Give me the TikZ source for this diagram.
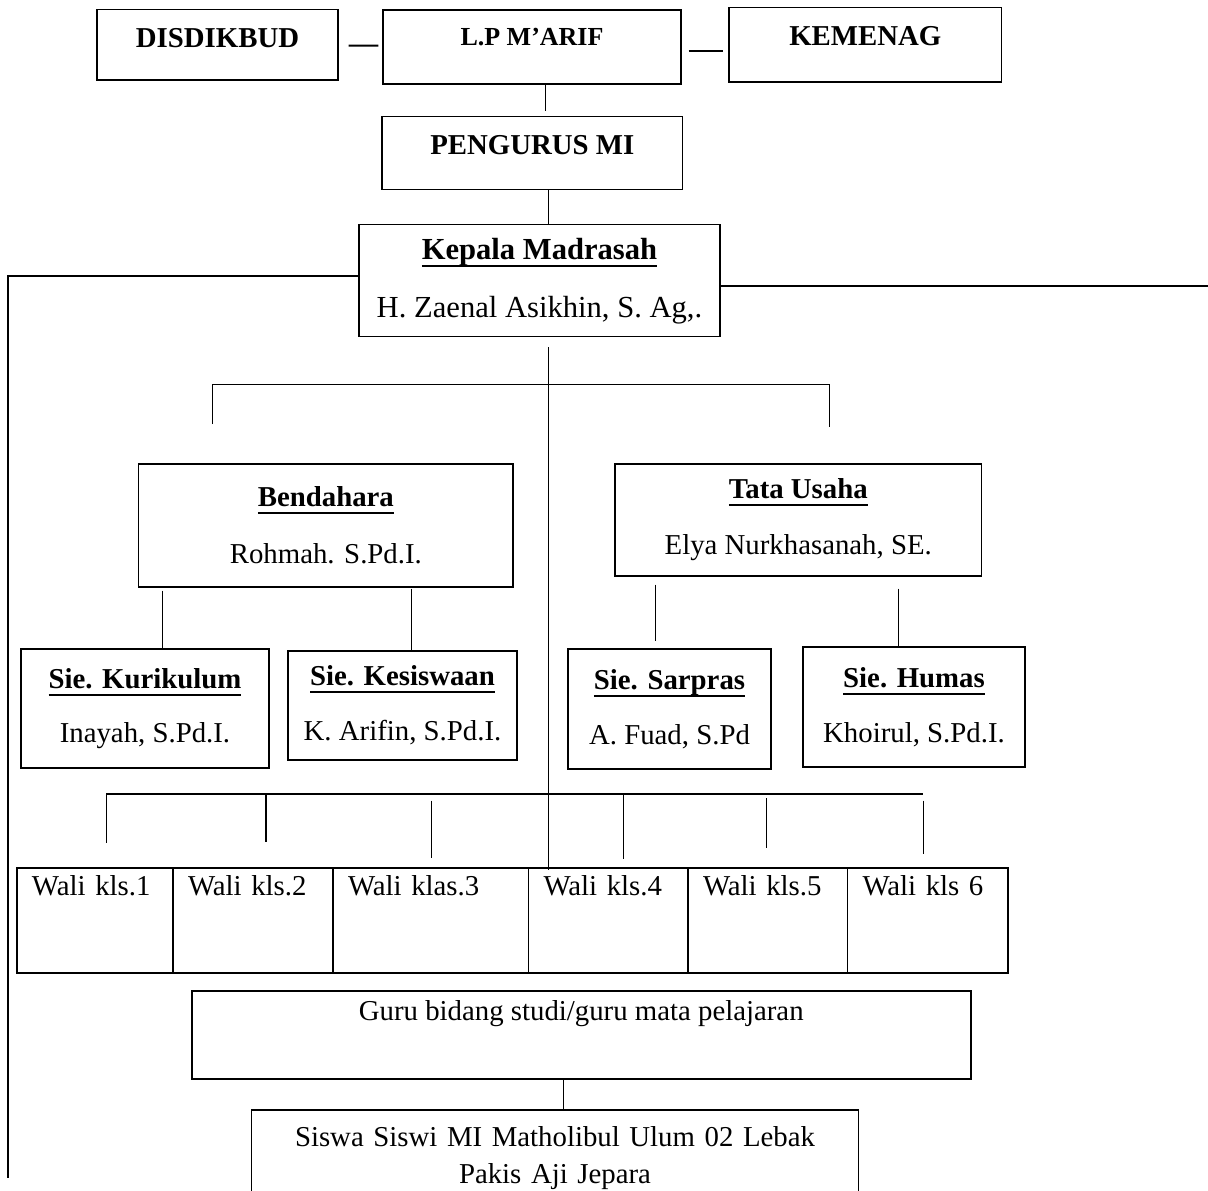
\documentclass[tikz,border=0pt]{standalone}
\usepackage{fontspec}
\setmainfont{Liberation Serif}
\usetikzlibrary{calc}
\newsavebox\titbox
\newcommand{\titul}[1]{\sbox\titbox{\bfseries #1}\rlap{\usebox\titbox}\rule[-3.8pt]{\wd\titbox}{1pt}}
\newcommand{\fs}{\fontsize{14.4}{17}\selectfont}

\begin{document}
\begin{tikzpicture}[x=0.5pt,y=-0.5pt,
  box/.style={draw, line width=0.7pt, inner sep=0pt, align=center, font=\fs},
  wali/.style={draw, line width=0.9pt, inner ysep=0pt, inner xsep=7.5pt, align=left,
    font=\fs, text height=13.65pt, text depth=39.15pt, text width=#1},
  link/.style={line width=0.5pt},
  tick/.style={line width=0.7pt}]
\useasboundingbox (0,0) rectangle (1208,1190);

% top row
\node[box, font=\fs\bfseries, minimum width=120.5pt, text height=18.85pt, text depth=16.5pt] (disdik) at (217.5,44.7) {DISDIKBUD};
\node[box, font=\fontsize{13}{15}\selectfont\bfseries, minimum width=149pt, text height=17.5pt, text depth=19.5pt] (lpm) at (532,47) {L.P M’ARIF};
\node[box, font=\fs\bfseries, minimum width=136.25pt, text height=18.85pt, text depth=18.5pt] (kemenag) at (865.25,44.65) {KEMENAG};
\node[box, font=\fs\bfseries, minimum width=150.3pt, text height=18.65pt, text depth=17.65pt] (pengurus) at (532.3,153) {PENGURUS MI};
\draw[link, line width=1pt] ($(disdik.east)+(10,1)$) -- ($(lpm.west)+(-4,-1.3)$);
\draw[link, line width=1pt] ($(lpm.east)+(7,3.7)$) -- ($(kemenag.west)+(-5,6.05)$);
\draw[link] (545.5,0 |- lpm.south) -- ($(545.5,0 |- pengurus.north)+(0,-4.7)$);

% kepala
\node[box, font=\fontsize{15.3}{18}\selectfont, minimum width=180.5pt, minimum height=56pt] (kepala) at (539.5,280.7)
  {\titul{Kepala Madrasah}\\[11pt] H. Zaenal Asikhin, S. Ag,.};
\draw[link] (548.5,0 |- pengurus.south) -- (548.5,0 |- kepala.north);
\coordinate (leftend) at (8,1178);
\coordinate (rightend) at (1208,286);
\draw[line width=0.7pt] (kepala.west |- 0,276) -| (leftend);
\draw[line width=0.7pt] (kepala.east |- 0,286) -- (rightend);

% bendahara / tata usaha
\coordinate (brL) at (212,424);
\coordinate (brR) at (829,427);
\draw[link] (brL) |- (brR |- 0,384) -- (brR);
\node[box, minimum width=187.15pt, minimum height=61.5pt] (bend) at (325.85,525.5)
  {\titul{Bendahara}\\[11.5pt] Rohmah. S.Pd.I.};
\node[box, minimum width=183.25pt, minimum height=56pt] (tata) at (798.25,520)
  {\titul{Tata Usaha}\\[11pt] Elya Nurkhasanah, SE.};

% seksi
\node[box, minimum width=124pt, minimum height=59.5pt] (kurik) at (145,708.5)
  {\titul{Sie. Kurikulum}\\[10pt] Inayah, S.Pd.I.};
\node[box, minimum width=114.5pt, minimum height=54.5pt] (kesis) at (402.5,705.5)
  {\titul{Sie. Kesiswaan}\\[10.5pt] K. Arifin, S.Pd.I.};
\node[box, minimum width=101.5pt, minimum height=60pt] (sarpras) at (669.5,709)
  {\titul{Sie. Sarpras}\\[10.5pt] A. Fuad, S.Pd};
\node[box, minimum width=111pt, minimum height=60pt] (humas) at (914,707)
  {\titul{Sie. Humas}\\[10.5pt] Khoirul, S.Pd.I.};
\draw[link] ($(162.6,0 |- bend.south)+(0,3)$) -- (162.6,0 |- kurik.north);
\draw[link] ($(411,0 |- bend.south)+(0,1)$) -- (411,0 |- kesis.north);
\draw[link] ($(655,0 |- tata.south)+(0,8)$) -- ($(655,0 |- sarpras.north)+(0,-7)$);
\draw[link] ($(898,0 |- tata.south)+(0,12)$) -- (898,0 |- humas.north);

% wali kelas
\node[wali=63pt] (wali1) at (95,920.5) {Wali kls.1};
\node[wali=65pt] (wali2) at (253,920.5) {Wali kls.2};
\node[wali=82.75pt] (wali3) at (430.75,920.5) {Wali klas.3};
\node[wali=64.75pt] (wali4) at (608.25,920.5) {Wali kls.4};
\node[wali=64.75pt] (wali5) at (767.75,920.5) {Wali kls.5};
\node[wali=65.25pt] (wali6) at (927.75,920.5) {Wali kls 6};
\draw[line width=1pt] (106.3,794) -- (923,794);
\foreach \x/\a/\b in {106.3/794/842.7, 266/794/842, 431.4/800.7/858.3,
    623.3/794/859, 766.6/798.3/847.7, 923.7/800.7/854}
  \draw[tick] (\x,\a) -- (\x,\b);
\coordinate (trunk) at (548.5,347);
\draw[link] (trunk) -- ($(548.5,0 |- wali4.north)+(0,3)$);

% guru & siswa
\node[box, line width=0.9pt, minimum width=389.5pt, text height=14.65pt, text depth=29.5pt] (guru) at (581.25,1034.85)
  {Guru bidang studi/guru mata pelajaran};
\node[inner sep=0pt, text width=303pt, align=center, font=\fontsize{14.4}{18.5}\selectfont,
  text height=18pt, text depth=25pt, anchor=north] (siswa) at (555,1110)
  {Siswa Siswi MI Matholibul Ulum 02 Lebak\\ Pakis Aji Jepara};
\draw[line width=0.7pt] (siswa.south west) |- (siswa.north east) -- (siswa.south east);
\draw[link] (563,0 |- guru.south) -- (563,0 |- siswa.north);
\end{tikzpicture}
\end{document}
